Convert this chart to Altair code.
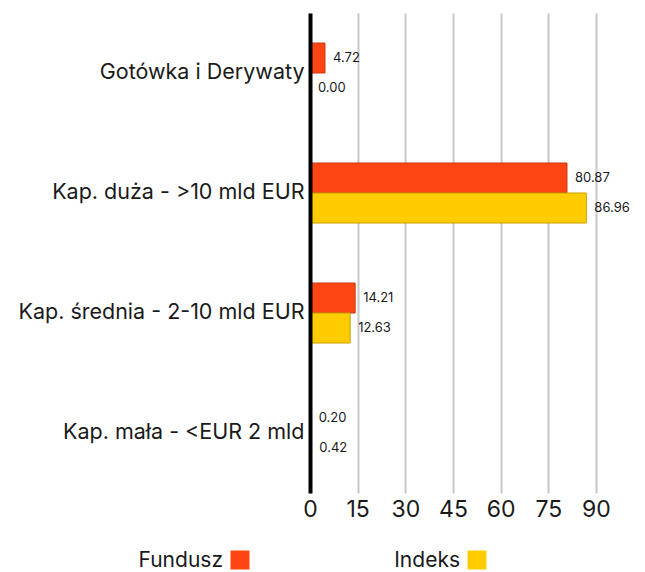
import altair as alt
import pandas as pd

categories = ["Gotówka i Derywaty", "Kap. duża - >10 mld EUR",
              "Kap. średnia - 2-10 mld EUR", "Kap. mała - <EUR 2 mld"]
series = ["Fundusz", "Indeks"]
fundusz = [4.72, 80.87, 14.21, 0.20]
indeks = [0.00, 86.96, 12.63, 0.42]
x_ticks = [0, 15, 30, 45, 60, 75, 90]
colors = ["#FF4612", "#FFCC00"]
strokes = ["#C8380E", "#C89E00"]

rows = []
for c, f, i in zip(categories, fundusz, indeks):
    rows.append({"cat": c, "series": series[0], "value": f})
    rows.append({"cat": c, "series": series[1], "value": i})
df = pd.DataFrame(rows)

FONT = "Inter"

color_scale = alt.Scale(domain=series, range=colors)
stroke_scale = alt.Scale(domain=series, range=strokes)

y_enc = alt.Y("cat:N", sort=categories, title=None,
              scale=alt.Scale(paddingInner=0.5, paddingOuter=0.25),
              axis=alt.Axis(domainColor="#000000", domainWidth=4, ticks=False,
                            labelFontSize=21.5, labelColor="#1a1a1a", labelFont=FONT,
                            labelPadding=6, labelLimit=400, grid=False, zindex=1))
x_enc = alt.X("value:Q", title=None,
              scale=alt.Scale(domain=[0, 90], nice=False),
              axis=alt.Axis(values=x_ticks, domain=False, ticks=False, grid=True,
                            gridColor="#c8c8c8", gridWidth=2, labelFlush=False,
                            labelFontSize=23, labelColor="#1a1a1a", labelFont=FONT,
                            labelPadding=5))

base = alt.Chart(df).encode(
    y=y_enc,
    yOffset=alt.YOffset("series:N", sort=series, scale=alt.Scale(domain=series)),
)

bars = base.mark_bar(strokeWidth=1).encode(
    x=x_enc,
    color=alt.Color("series:N", scale=color_scale, legend=None),
    stroke=alt.Stroke("series:N", scale=stroke_scale, legend=None),
)

labels = base.mark_text(align="left", baseline="middle", dx=8, fontSize=13,
                        font=FONT, color="#1a1a1a").encode(
    x=alt.X("value:Q"),
    text=alt.Text("value:Q", format=".2f"),
)

main = alt.layer(bars, labels).properties(width=286, height=480)

leg_df = pd.DataFrame({"series": series})
leg_base = alt.Chart(leg_df).encode(
    x=alt.X("series:N", sort=series, axis=None,
            scale=alt.Scale(type="point", padding=0)),
)
leg_sq = leg_base.mark_square(size=361, opacity=1, xOffset=-70).encode(
    color=alt.Color("series:N", scale=color_scale, legend=None),
)
leg_txt = leg_base.mark_text(align="right", baseline="middle", dx=-87, dy=1,
                             fontSize=21, font=FONT, color="#1a1a1a").encode(
    text="series:N",
)
legend = alt.layer(leg_sq, leg_txt).properties(width=237, height=20)

chart = alt.vconcat(main, legend, spacing=29).configure_view(stroke=None).properties(
    padding={"left": 9, "top": 5, "right": 0, "bottom": 0}
)

chart.save("out.html", embed_options={"renderer": "svg", "actions": False})
